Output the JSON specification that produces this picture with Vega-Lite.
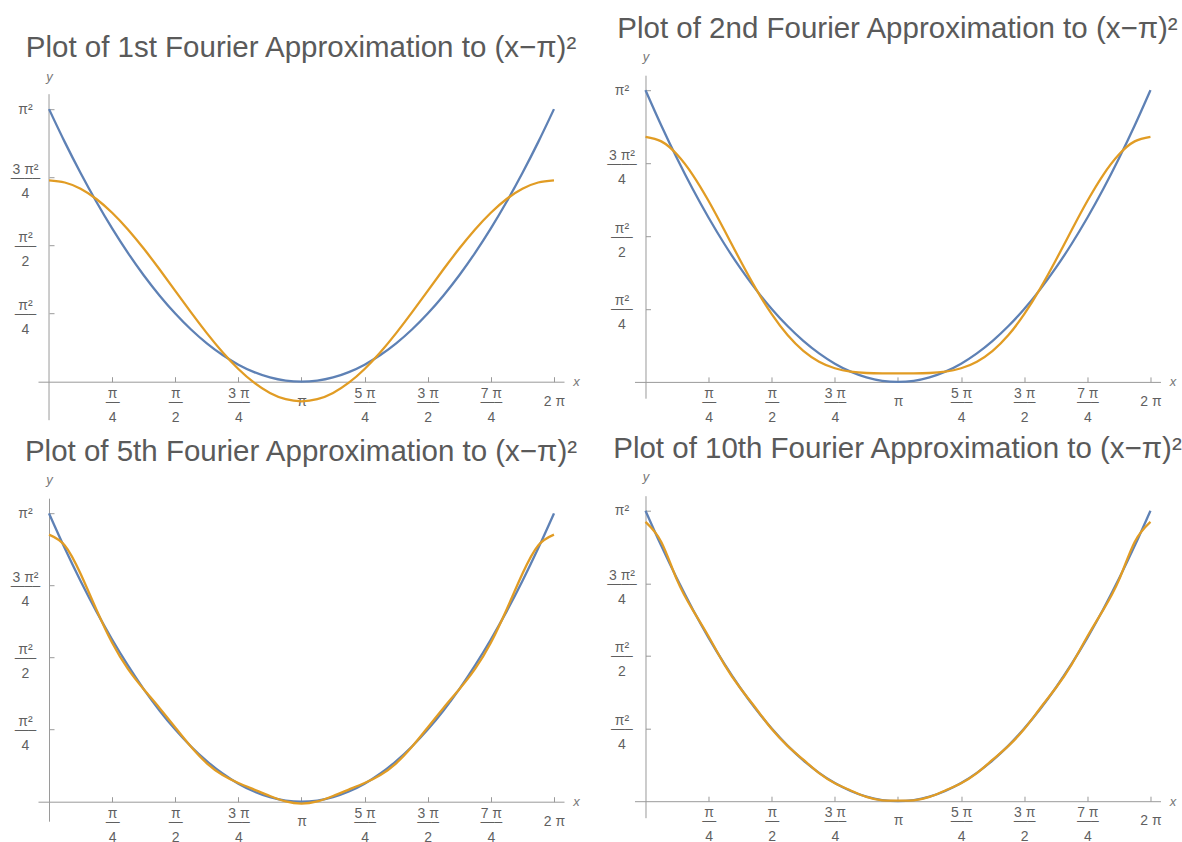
{
  "$schema": "https://vega.github.io/schema/vega-lite/v6.json",
  "padding": {"left": 10, "top": 13.2, "right": 0, "bottom": 0},
  "background": "white",
  "spacing": 26.5,
  "config": {
    "view": {"stroke": null},
    "axis": {"grid": false, "domainColor": "#9a9a9a", "tickColor": "#9a9a9a", "labelColor": "#5f5f5f", "labelFont": "Liberation Sans", "labelFontSize": 14, "labelLineHeight": 8, "tickSize": -5, "labelOverlap": false, "labelFlush": false, "labelBound": false, "titleFont": "Liberation Sans", "titleFontStyle": "italic", "titleFontWeight": "normal", "titleFontSize": 13, "titleColor": "#777777", "domainWidth": 1, "tickWidth": 1},
    "axisX": {"labelBaseline": "middle", "labelAlign": "center", "labelPadding": 16.5, "titleAlign": "center", "titleBaseline": "middle", "titleX": 538, "titleY": 0},
    "axisY": {"labelBaseline": "middle", "labelAlign": "center", "labelPadding": 29, "labelOffset": -8, "titleAngle": 0, "titleAlign": "center", "titleBaseline": "alphabetic", "titleX": 0, "titleY": -15},
    "title": {"font": "Liberation Sans", "fontSize": 29.5, "fontWeight": "normal", "color": "#5a5a5a", "frame": "group", "anchor": "middle", "offset": 6}
  },
  "datasets": {
    "f": [
      {"x": 0, "y": 9.8696}, {"x": 0.19635, "y": 8.6745}, {"x": 0.392699, "y": 7.5564}, {"x": 0.589049, "y": 6.5155}, {"x": 0.785398, "y": 5.5517}, {"x": 0.981748, "y": 4.6649}, {"x": 1.178097, "y": 3.8553}, {"x": 1.374447, "y": 3.1228}, {"x": 1.570796, "y": 2.4674}, {"x": 1.767146, "y": 1.8891}, {"x": 1.963495, "y": 1.3879}, {"x": 2.159845, "y": 0.9638}, {"x": 2.356194, "y": 0.6169}, {"x": 2.552544, "y": 0.347}, {"x": 2.748894, "y": 0.1542}, {"x": 2.945243, "y": 0.0386}, {"x": 3.141593, "y": 0},
      {"x": 3.337942, "y": 0.0386}, {"x": 3.534292, "y": 0.1542}, {"x": 3.730641, "y": 0.347}, {"x": 3.926991, "y": 0.6169}, {"x": 4.12334, "y": 0.9638}, {"x": 4.31969, "y": 1.3879}, {"x": 4.516039, "y": 1.8891}, {"x": 4.712389, "y": 2.4674}, {"x": 4.908739, "y": 3.1228}, {"x": 5.105088, "y": 3.8553}, {"x": 5.301438, "y": 4.6649}, {"x": 5.497787, "y": 5.5517}, {"x": 5.694137, "y": 6.5155}, {"x": 5.890486, "y": 7.5564}, {"x": 6.086836, "y": 8.6745}, {"x": 6.283185, "y": 9.8696}
    ],
    "s1": [
      {"x": 0, "y": 7.2899}, {"x": 0.19635, "y": 7.213}, {"x": 0.392699, "y": 6.9854}, {"x": 0.589049, "y": 6.6157}, {"x": 0.785398, "y": 6.1183}, {"x": 0.981748, "y": 5.5121}, {"x": 1.178097, "y": 4.8206}, {"x": 1.374447, "y": 4.0702}, {"x": 1.570796, "y": 3.2899}, {"x": 1.767146, "y": 2.5095}, {"x": 1.963495, "y": 1.7591}, {"x": 2.159845, "y": 1.0676}, {"x": 2.356194, "y": 0.4614}, {"x": 2.552544, "y": -0.036}, {"x": 2.748894, "y": -0.4057}, {"x": 2.945243, "y": -0.6333}, {"x": 3.141593, "y": -0.7101},
      {"x": 3.337942, "y": -0.6333}, {"x": 3.534292, "y": -0.4057}, {"x": 3.730641, "y": -0.036}, {"x": 3.926991, "y": 0.4614}, {"x": 4.12334, "y": 1.0676}, {"x": 4.31969, "y": 1.7591}, {"x": 4.516039, "y": 2.5095}, {"x": 4.712389, "y": 3.2899}, {"x": 4.908739, "y": 4.0702}, {"x": 5.105088, "y": 4.8206}, {"x": 5.301438, "y": 5.5121}, {"x": 5.497787, "y": 6.1183}, {"x": 5.694137, "y": 6.6157}, {"x": 5.890486, "y": 6.9854}, {"x": 6.086836, "y": 7.213}, {"x": 6.283185, "y": 7.2899}
    ],
    "s2": [
      {"x": 0, "y": 8.2899}, {"x": 0.19635, "y": 8.1369}, {"x": 0.392699, "y": 7.6925}, {"x": 0.589049, "y": 6.9984}, {"x": 0.785398, "y": 6.1183}, {"x": 0.981748, "y": 5.1294}, {"x": 1.178097, "y": 4.1135}, {"x": 1.374447, "y": 3.1463}, {"x": 1.570796, "y": 2.2899}, {"x": 1.767146, "y": 1.5856}, {"x": 1.963495, "y": 1.052}, {"x": 2.159845, "y": 0.6849}, {"x": 2.356194, "y": 0.4614}, {"x": 2.552544, "y": 0.3467}, {"x": 2.748894, "y": 0.3014}, {"x": 2.945243, "y": 0.2906}, {"x": 3.141593, "y": 0.2899},
      {"x": 3.337942, "y": 0.2906}, {"x": 3.534292, "y": 0.3014}, {"x": 3.730641, "y": 0.3467}, {"x": 3.926991, "y": 0.4614}, {"x": 4.12334, "y": 0.6849}, {"x": 4.31969, "y": 1.052}, {"x": 4.516039, "y": 1.5856}, {"x": 4.712389, "y": 2.2899}, {"x": 4.908739, "y": 3.1463}, {"x": 5.105088, "y": 4.1135}, {"x": 5.301438, "y": 5.1294}, {"x": 5.497787, "y": 6.1183}, {"x": 5.694137, "y": 6.9984}, {"x": 5.890486, "y": 7.6925}, {"x": 6.086836, "y": 8.1369}, {"x": 6.283185, "y": 8.2899}
    ],
    "s5": [
      {"x": 0, "y": 9.1443}, {"x": 0.19635, "y": 8.7721}, {"x": 0.392699, "y": 7.8013}, {"x": 0.589049, "y": 6.578}, {"x": 0.785398, "y": 5.4409}, {"x": 0.981748, "y": 4.5479}, {"x": 1.178097, "y": 3.8507}, {"x": 1.374447, "y": 3.2092}, {"x": 1.570796, "y": 2.5399}, {"x": 1.767146, "y": 1.8763}, {"x": 1.963495, "y": 1.3148}, {"x": 2.159845, "y": 0.9128}, {"x": 2.356194, "y": 0.6388}, {"x": 2.552544, "y": 0.4136}, {"x": 2.748894, "y": 0.1926}, {"x": 2.945243, "y": 0.009}, {"x": 3.141593, "y": -0.0645},
      {"x": 3.337942, "y": 0.009}, {"x": 3.534292, "y": 0.1926}, {"x": 3.730641, "y": 0.4136}, {"x": 3.926991, "y": 0.6388}, {"x": 4.12334, "y": 0.9128}, {"x": 4.31969, "y": 1.3148}, {"x": 4.516039, "y": 1.8763}, {"x": 4.712389, "y": 2.5399}, {"x": 4.908739, "y": 3.2092}, {"x": 5.105088, "y": 3.8507}, {"x": 5.301438, "y": 4.5479}, {"x": 5.497787, "y": 5.4409}, {"x": 5.694137, "y": 6.578}, {"x": 5.890486, "y": 7.8013}, {"x": 6.086836, "y": 8.7721}, {"x": 6.283185, "y": 9.1443}
    ],
    "s10": [
      {"x": 0, "y": 9.4889}, {"x": 0.19635, "y": 8.8056}, {"x": 0.392699, "y": 7.5109}, {"x": 0.589049, "y": 6.4944}, {"x": 0.785398, "y": 5.596}, {"x": 0.981748, "y": 4.6404}, {"x": 1.178097, "y": 3.8449}, {"x": 1.374447, "y": 3.1504}, {"x": 1.570796, "y": 2.4513}, {"x": 1.767146, "y": 1.8807}, {"x": 1.963495, "y": 1.4093}, {"x": 2.159845, "y": 0.9517}, {"x": 2.356194, "y": 0.6087}, {"x": 2.552544, "y": 0.3658}, {"x": 2.748894, "y": 0.1443}, {"x": 2.945243, "y": 0.0299}, {"x": 3.141593, "y": 0.0181},
      {"x": 3.337942, "y": 0.0299}, {"x": 3.534292, "y": 0.1443}, {"x": 3.730641, "y": 0.3658}, {"x": 3.926991, "y": 0.6087}, {"x": 4.12334, "y": 0.9517}, {"x": 4.31969, "y": 1.4093}, {"x": 4.516039, "y": 1.8807}, {"x": 4.712389, "y": 2.4513}, {"x": 4.908739, "y": 3.1504}, {"x": 5.105088, "y": 3.8449}, {"x": 5.301438, "y": 4.6404}, {"x": 5.497787, "y": 5.596}, {"x": 5.694137, "y": 6.4944}, {"x": 5.890486, "y": 7.5109}, {"x": 6.086836, "y": 8.8056}, {"x": 6.283185, "y": 9.4889}
    ]
  },
  "hconcat": [
    {
      "spacing": 12,
      "vconcat": [
        {
          "width": 526, "height": 345,
          "title": {"text": "Plot of 1st Fourier Approximation to (x−π)²", "offset": 6.5},
          "layer": [
            {"data": {"values": [{}]}, "mark": {"type": "rule", "color": "#9a9a9a", "strokeWidth": 1},
             "encoding": {"x": {"datum": 0, "type": "quantitative"}, "y": {"datum": -1.394, "type": "quantitative"}, "y2": {"datum": 10.41}}},
            {"data": {"name": "f"}, "mark": {"type": "line", "color": "#5E81B5", "strokeWidth": 2.3, "interpolate": "monotone"},
             "encoding": {
               "x": {"field": "x", "type": "quantitative", "scale": {"domain": [-0.137, 6.408], "nice": false, "zero": false},
                     "axis": {"values": [0.7853982, 1.5707963, 2.3561945, 3.1415927, 3.9269908, 4.712389, 5.4977871, 6.2831853], "labelExpr": "['', ['π','—','\u200b','4'], ['π','—','\u200b','2'], ['3 π','—–','\u200b','4'], ['\u200b','π'], ['5 π','—–','\u200b','4'], ['3 π','—–','\u200b','2'], ['7 π','—–','\u200b','4'], ['\u200b','2 π']][round(datum.value*4/PI)]", "offset": -38.5, "title": "x"}},
               "y": {"field": "y", "type": "quantitative", "scale": {"domain": [-1.394, 11.098], "nice": false, "zero": false},
                     "axis": {"values": [2.4674011, 4.9348022, 7.4022033, 9.8696044], "labelExpr": "['', ['π²','—–','\u200b','4'], ['π²','—–','\u200b','2'], ['3 π²','—––','\u200b','4'], ['\u200b','π²']][round(datum.value*4/(PI*PI))]", "offset": -11, "domain": false, "title": "y", "titleY": 5}}
             }},
            {"data": {"name": "s1"}, "mark": {"type": "line", "color": "#E19C24", "strokeWidth": 2.3, "interpolate": "natural"},
             "encoding": {"x": {"field": "x", "type": "quantitative"}, "y": {"field": "y", "type": "quantitative"}}}
          ]
        },
        {
          "width": 526, "height": 323,
          "title": {"text": "Plot of 5th Fourier Approximation to (x−π)²"},
          "layer": [
            {"data": {"name": "f"}, "mark": {"type": "line", "color": "#5E81B5", "strokeWidth": 2.3, "interpolate": "monotone"},
             "encoding": {
               "x": {"field": "x", "type": "quantitative", "scale": {"domain": [-0.137, 6.408], "nice": false, "zero": false},
                     "axis": {"values": [0.7853982, 1.5707963, 2.3561945, 3.1415927, 3.9269908, 4.712389, 5.4977871, 6.2831853], "labelExpr": "['', ['π','—','\u200b','4'], ['π','—','\u200b','2'], ['3 π','—–','\u200b','4'], ['\u200b','π'], ['5 π','—–','\u200b','4'], ['3 π','—–','\u200b','2'], ['7 π','—–','\u200b','4'], ['\u200b','2 π']][round(datum.value*4/PI)]", "offset": -19.5, "title": "x"}},
               "y": {"field": "y", "type": "quantitative", "scale": {"domain": [-0.668, 10.39], "nice": false, "zero": false},
                     "axis": {"values": [2.4674011, 4.9348022, 7.4022033, 9.8696044], "labelExpr": "['', ['π²','—–','\u200b','4'], ['π²','—–','\u200b','2'], ['3 π²','—––','\u200b','4'], ['\u200b','π²']][round(datum.value*4/(PI*PI))]", "offset": -11, "title": "y"}}
             }},
            {"data": {"name": "s5"}, "mark": {"type": "line", "color": "#E19C24", "strokeWidth": 2.3, "interpolate": "natural"},
             "encoding": {"x": {"field": "x", "type": "quantitative"}, "y": {"field": "y", "type": "quantitative"}}}
          ]
        }
      ]
    },
    {
      "spacing": 8.5,
      "vconcat": [
        {
          "width": 526, "height": 323,
          "title": {"text": "Plot of 2nd Fourier Approximation to (x−π)²"},
          "layer": [
            {"data": {"name": "f"}, "mark": {"type": "line", "color": "#5E81B5", "strokeWidth": 2.3, "interpolate": "monotone"},
             "encoding": {
               "x": {"field": "x", "type": "quantitative", "scale": {"domain": [-0.137, 6.408], "nice": false, "zero": false},
                     "axis": {"values": [0.7853982, 1.5707963, 2.3561945, 3.1415927, 3.9269908, 4.712389, 5.4977871, 6.2831853], "labelExpr": "['', ['π','—','\u200b','4'], ['π','—','\u200b','2'], ['3 π','—–','\u200b','4'], ['\u200b','π'], ['5 π','—–','\u200b','4'], ['3 π','—–','\u200b','2'], ['7 π','—–','\u200b','4'], ['\u200b','2 π']][round(datum.value*4/PI)]", "offset": -16.3, "title": "x"}},
               "y": {"field": "y", "type": "quantitative", "scale": {"domain": [-0.551, 10.375], "nice": false, "zero": false},
                     "axis": {"values": [2.4674011, 4.9348022, 7.4022033, 9.8696044], "labelExpr": "['', ['π²','—–','\u200b','4'], ['π²','—–','\u200b','2'], ['3 π²','—––','\u200b','4'], ['\u200b','π²']][round(datum.value*4/(PI*PI))]", "offset": -11, "title": "y"}}
             }},
            {"data": {"name": "s2"}, "mark": {"type": "line", "color": "#E19C24", "strokeWidth": 2.3, "interpolate": "natural"},
             "encoding": {"x": {"field": "x", "type": "quantitative"}, "y": {"field": "y", "type": "quantitative"}}}
          ]
        },
        {
          "width": 526, "height": 322,
          "title": {"text": "Plot of 10th Fourier Approximation to (x−π)²"},
          "layer": [
            {"data": {"name": "f"}, "mark": {"type": "line", "color": "#5E81B5", "strokeWidth": 2.3, "interpolate": "monotone"},
             "encoding": {
               "x": {"field": "x", "type": "quantitative", "scale": {"domain": [-0.137, 6.408], "nice": false, "zero": false},
                     "axis": {"values": [0.7853982, 1.5707963, 2.3561945, 3.1415927, 3.9269908, 4.712389, 5.4977871, 6.2831853], "labelExpr": "['', ['π','—','\u200b','4'], ['π','—','\u200b','2'], ['3 π','—–','\u200b','4'], ['\u200b','π'], ['5 π','—–','\u200b','4'], ['3 π','—–','\u200b','2'], ['7 π','—–','\u200b','4'], ['\u200b','2 π']][round(datum.value*4/PI)]", "offset": -16.5, "title": "x"}},
               "y": {"field": "y", "type": "quantitative", "scale": {"domain": [-0.56, 10.38], "nice": false, "zero": false},
                     "axis": {"values": [2.4674011, 4.9348022, 7.4022033, 9.8696044], "labelExpr": "['', ['π²','—–','\u200b','4'], ['π²','—–','\u200b','2'], ['3 π²','—––','\u200b','4'], ['\u200b','π²']][round(datum.value*4/(PI*PI))]", "offset": -11, "title": "y"}}
             }},
            {"data": {"name": "s10"}, "mark": {"type": "line", "color": "#E19C24", "strokeWidth": 2.3, "interpolate": "natural"},
             "encoding": {"x": {"field": "x", "type": "quantitative"}, "y": {"field": "y", "type": "quantitative"}}}
          ]
        }
      ]
    }
  ]
}
